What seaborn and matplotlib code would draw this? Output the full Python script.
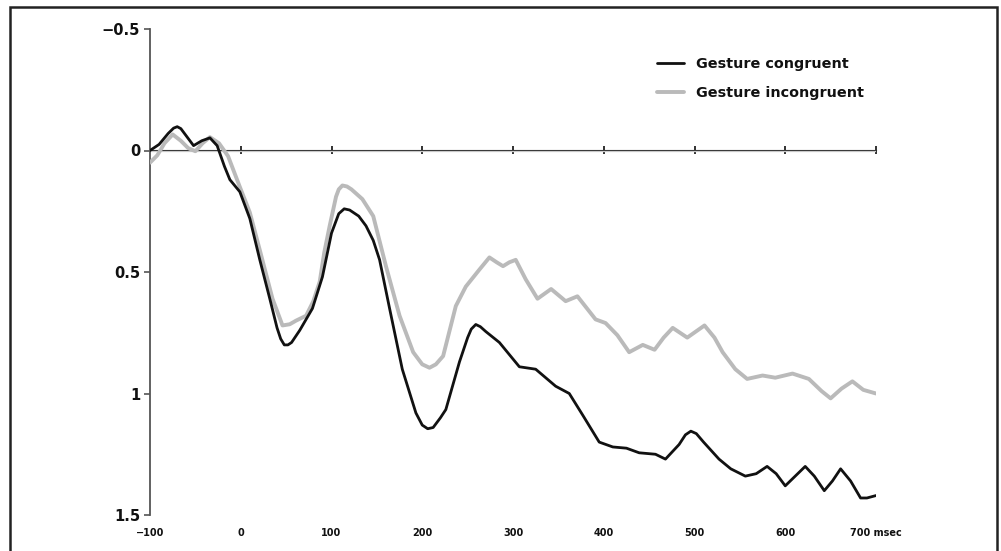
import matplotlib
matplotlib.use("Agg")
import matplotlib.pyplot as plt
import seaborn as sns
from matplotlib.patches import Rectangle

# ERP waveforms (time in msec, amplitude; negative up)
cong_time = [-100, -90, -80, -74, -70, -66, -62, -52, -43, -34, -26, -18, -12, -1, 10, 21, 32,
             40, 44, 48, 52, 56, 65, 79, 90, 100, 108, 114, 120, 130, 138, 146, 153, 164, 178,
             193, 200, 206, 212, 220, 226, 241, 250, 254, 259, 264, 270, 285, 307, 325, 347,
             362, 377, 395, 410, 425, 439, 457, 468, 483, 490, 496, 502, 510, 527, 540, 556,
             568, 580, 590, 600, 611, 622, 632, 643, 652, 661, 672, 683, 690, 700]
cong_vals = [0.0, -0.025, -0.07, -0.092, -0.098, -0.09, -0.07, -0.02, -0.04, -0.052, -0.02,
             0.065, 0.12, 0.17, 0.28, 0.45, 0.61, 0.73, 0.775, 0.80, 0.80, 0.79, 0.74, 0.65,
             0.52, 0.34, 0.26, 0.24, 0.245, 0.27, 0.31, 0.37, 0.45, 0.65, 0.90, 1.08, 1.13,
             1.145, 1.14, 1.10, 1.066, 0.87, 0.77, 0.735, 0.716, 0.725, 0.745, 0.79, 0.89, 0.90,
             0.97, 1.00, 1.09, 1.20, 1.22, 1.225, 1.244, 1.25, 1.27, 1.21, 1.17, 1.155, 1.165,
             1.20, 1.27, 1.31, 1.34, 1.33, 1.30, 1.33, 1.38, 1.34, 1.30, 1.34, 1.40, 1.36, 1.31,
             1.36, 1.43, 1.43, 1.42]

incong_time = [-100, -92, -84, -75, -66, -58, -50, -42, -34, -24, -14, -1, 10, 21, 35, 46, 54,
               61, 72, 80, 87, 92, 98, 105, 108, 112, 117, 122, 134, 146, 160, 175, 190, 200,
               208, 215, 223, 237, 248, 263, 274, 282, 289, 296, 303, 314, 327, 342, 358, 371,
               391, 402, 415, 428, 443, 456, 466, 476, 492, 511, 522, 531, 545, 558, 575, 589,
               608, 626, 640, 650, 662, 674, 686, 700]
incong_vals = [0.05, 0.02, -0.03, -0.066, -0.04, -0.01, 0.003, -0.03, -0.055, -0.03, 0.023,
               0.15, 0.255, 0.41, 0.61, 0.72, 0.715, 0.70, 0.68, 0.62, 0.54, 0.42, 0.31, 0.19,
               0.16, 0.144, 0.148, 0.16, 0.20, 0.27, 0.476, 0.68, 0.83, 0.88, 0.894, 0.88, 0.846,
               0.64, 0.56, 0.49, 0.44, 0.46, 0.476, 0.46, 0.45, 0.53, 0.61, 0.57, 0.62, 0.60,
               0.695, 0.71, 0.76, 0.83, 0.80, 0.82, 0.77, 0.73, 0.77, 0.72, 0.77, 0.83, 0.90,
               0.94, 0.926, 0.935, 0.918, 0.94, 0.99, 1.02, 0.98, 0.95, 0.985, 1.0]

x_ticks = [-100, 0, 100, 200, 300, 400, 500, 600, 700]
x_labels = ["\u2212100", "0", "100", "200", "300", "400", "500", "600", "700 msec"]
y_ticks = [-0.5, 0, 0.5, 1, 1.5]
y_labels = ["\u22120.5", "0", "0.5", "1", "1.5"]

sns.set_style("white")
plt.rcParams["font.family"] = ["DejaVu Sans"]

W, H = 1001, 551
fig = plt.figure(figsize=(W / 100, H / 100), dpi=100)
ax = fig.add_axes([150 / W, 1 - 515 / H, (876 - 150) / W, (515 - 29) / H])

# gray first so the black trace sits on top
sns.lineplot(x=incong_time, y=incong_vals, ax=ax, color="#bababa", lw=2.8,
             label="Gesture incongruent", zorder=3, solid_joinstyle="round")
sns.lineplot(x=cong_time, y=cong_vals, ax=ax, color="#111111", lw=2.0,
             label="Gesture congruent", zorder=4, solid_joinstyle="round")

ax.set_xlim(-100, 700)
ax.set_ylim(1.5, -0.5)

# left axis only
for s in ["top", "right", "bottom"]:
    ax.spines[s].set_visible(False)
ax.spines["left"].set_color("#555555")
ax.spines["left"].set_linewidth(1.3)

ax.set_yticks(y_ticks)
ax.set_yticklabels(y_labels, fontsize=10.5, fontweight="bold", color="#111111")
ax.tick_params(axis="y", direction="out", length=4, width=1.2, color="#555555", pad=3, left=True)

ax.set_xticks(x_ticks)
ax.set_xticklabels(x_labels, fontsize=7, fontweight="bold", color="#111111")
ax.tick_params(axis="x", length=0, pad=9)

# time axis through zero
ax.axhline(0, color="#c8c8c8", lw=0.9, zorder=1)
y0 = (1.5 - 0) / 2.0
secax = ax.secondary_xaxis(y0)
secax.set_xticks(x_ticks[1:])
secax.set_xticklabels([])
secax.tick_params(direction="inout", length=6, width=1.3, color="#222222")
secax.spines["bottom"].set_bounds(-12, 700)
secax.spines["bottom"].set_color("#222222")
secax.spines["bottom"].set_linewidth(1.4)

ax.set_xlabel("")
ax.set_ylabel("")

handles, labels = ax.get_legend_handles_labels()
leg = ax.legend(handles[::-1], labels[::-1], loc="upper left",
                bbox_to_anchor=(657 / W, 1 - 57 / H), bbox_transform=fig.transFigure,
                frameon=False, prop={"weight": "bold", "size": 10.4},
                handlelength=1.9, handletextpad=0.8, labelspacing=1.05,
                borderpad=0, borderaxespad=0)
for t in leg.get_texts():
    t.set_color("#111111")

# outer frame (bottom edge falls outside the image)
fig.add_artist(Rectangle((10 / W, -0.1), (997 - 10) / W, 1.1 - 7 / H,
                         transform=fig.transFigure, fill=False,
                         edgecolor="#222222", lw=1.8))

fig.savefig("out.png", dpi=100)
